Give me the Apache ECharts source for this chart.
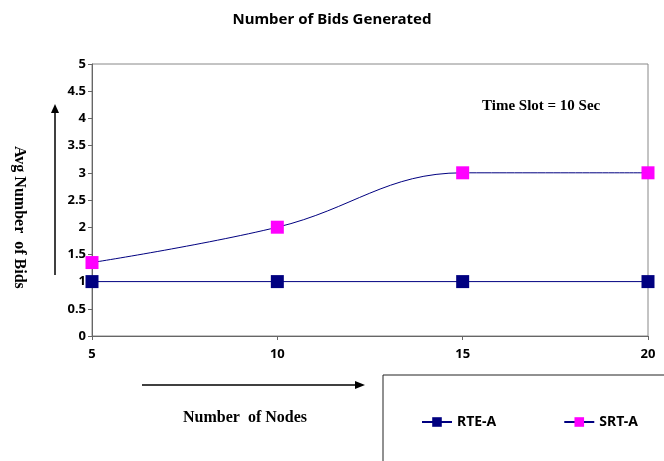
<!DOCTYPE html>
<html>
<head>
<meta charset="utf-8">
<script src="https://cdn.jsdelivr.net/npm/echarts@6/dist/echarts.min.js"></script>
<style>
  html, body { margin: 0; padding: 0; background: #fff; }
  #main { width: 664px; height: 461px; }
</style>
</head>
<body>
<div id="main"></div>
<script>
// data
var nodes = [5, 10, 15, 20];
var rteA = [1, 1, 1, 1];
var srtA = [1.35, 2, 3, 3];
var seriesNames = ['RTE-A', 'SRT-A'];

var chart = echarts.init(document.getElementById('main'));

var sans = 'Noto Sans, DejaVu Sans, sans-serif';
var serif = 'Liberation Serif, DejaVu Serif, serif';

chart.setOption({
  animation: false,
  backgroundColor: '#fff',
  title: {
    text: 'Number of Bids Generated',
    left: 'center',
    top: 7,
    textStyle: { fontFamily: sans, fontSize: 15, fontWeight: 'bold', color: '#000' }
  },
  grid: {
    left: 92, right: 16, top: 64, bottom: 125,
    show: true, borderColor: '#888', borderWidth: 1
  },
  legend: {
    data: seriesNames,
    left: 416, top: 410,
    itemGap: 67,
    itemWidth: 30, itemHeight: 12,
    textStyle: { fontFamily: sans, fontSize: 14, fontWeight: 'bold', color: '#000' }
  },
  xAxis: {
    type: 'value',
    min: 5, max: 20, interval: 5,
    axisLine: { lineStyle: { color: '#666' } },
    axisTick: { show: true, length: 4, lineStyle: { color: '#666' } },
    splitLine: { show: false },
    axisLabel: { fontFamily: sans, fontSize: 13, fontWeight: 'bold', color: '#000', margin: 12 }
  },
  yAxis: {
    type: 'value',
    min: 0, max: 5, interval: 0.5,
    axisLine: { show: true, lineStyle: { color: '#666' } },
    axisTick: { show: true, length: 4, lineStyle: { color: '#666' } },
    splitLine: { show: false },
    axisLabel: { fontFamily: sans, fontSize: 13, fontWeight: 'bold', color: '#000', margin: 6 }
  },
  series: [
    {
      name: seriesNames[0],
      type: 'line',
      data: nodes.map(function (n, i) { return [n, rteA[i]]; }),
      symbol: 'rect', symbolSize: 13,
      itemStyle: { color: '#000080' },
      lineStyle: { color: '#000080', width: 1 }
    },
    {
      name: seriesNames[1],
      type: 'line',
      smooth: 0.4,
      data: nodes.map(function (n, i) { return [n, srtA[i]]; }),
      symbol: 'rect', symbolSize: 13,
      itemStyle: { color: '#ff00ff' },
      lineStyle: { color: '#000080', width: 1 }
    }
  ],
  graphic: [
    // y label and arrow
    {
      type: 'text', left: 11, top: 146, rotation: -Math.PI / 2,
      style: { text: 'Avg Number  of Bids', font: 'bold 16px ' + serif, fill: '#000' }
    },
    { type: 'line', shape: { x1: 55, y1: 275, x2: 55, y2: 112 }, style: { stroke: '#000', lineWidth: 1.5 } },
    { type: 'polygon', shape: { points: [[51, 113], [59, 113], [55, 104]] }, style: { fill: '#000' } },
    // x label and arrow
    { type: 'line', shape: { x1: 142, y1: 385, x2: 356, y2: 385 }, style: { stroke: '#000', lineWidth: 1.5 } },
    { type: 'polygon', shape: { points: [[355, 381], [355, 389], [365, 385]] }, style: { fill: '#000' } },
    {
      type: 'text', left: 183, top: 410,
      style: { text: 'Number  of Nodes', font: 'bold 16px ' + serif, fill: '#000' }
    },
    // annotation
    {
      type: 'text', left: 482, top: 99,
      style: { text: 'Time Slot = 10 Sec', font: 'bold 15px ' + serif, fill: '#000' }
    },
    // legend box
    { type: 'polyline', shape: { points: [[383, 461], [383, 375], [664, 375]] }, style: { stroke: '#222', lineWidth: 1, fill: null } }
  ]
});
</script>
</body>
</html>
